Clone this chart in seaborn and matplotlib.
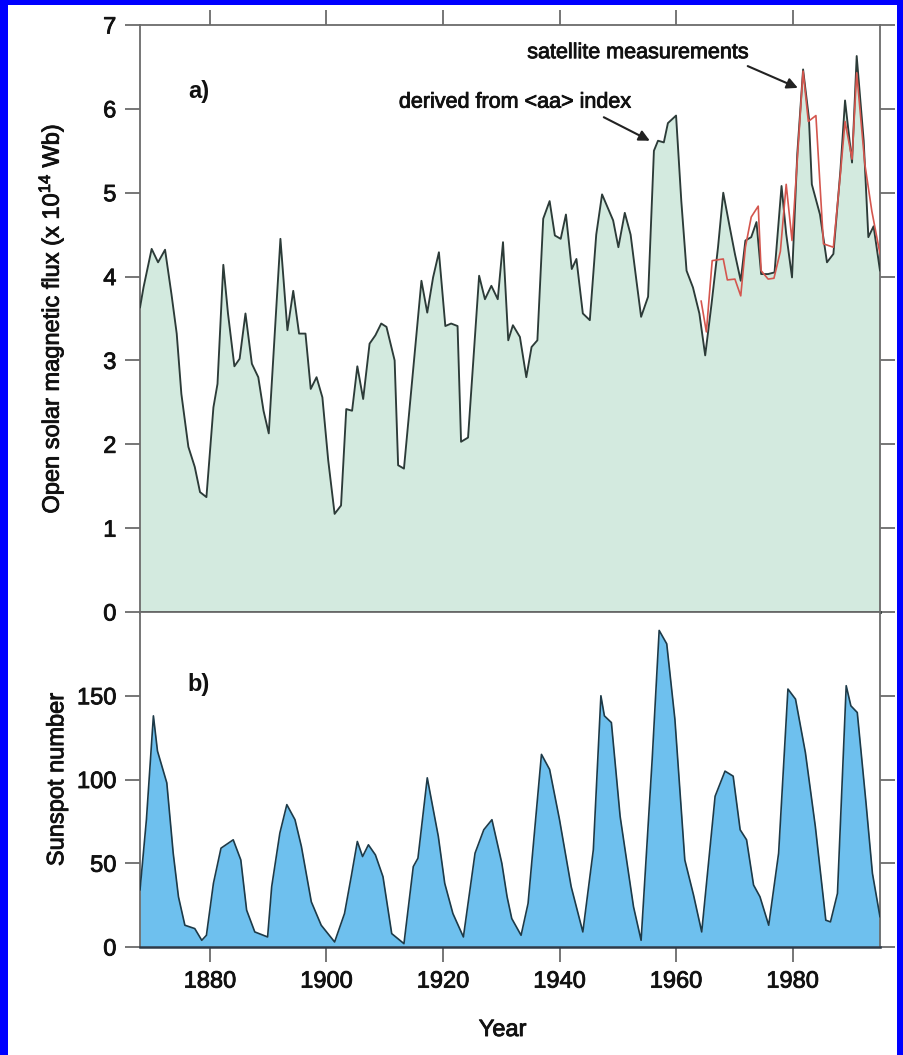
import matplotlib
matplotlib.use("Agg")
import matplotlib.pyplot as plt
import matplotlib.patheffects as pe
import pandas as pd
import seaborn as sns
from matplotlib.patches import Rectangle

# Open solar magnetic flux derived from the <aa> index (x 10^14 Wb)
flux_year = [1868.0, 1868.6, 1870.0, 1871.1, 1872.3, 1873.4, 1874.3, 1875.1, 1876.3, 1877.4,
             1878.3, 1879.4, 1880.6, 1881.3, 1882.3, 1883.1, 1884.2, 1885.1, 1886.1, 1887.2,
             1888.3, 1889.2, 1890.1, 1892.1, 1893.3, 1894.3, 1895.3, 1896.4, 1897.3, 1898.3,
             1899.3, 1900.3, 1901.4, 1902.5, 1903.4, 1904.4, 1905.3, 1906.3, 1907.4, 1908.4,
             1909.4, 1910.3, 1911.7, 1912.3, 1913.3, 1916.3, 1917.3, 1918.3, 1919.3, 1920.4,
             1921.4, 1922.5, 1923.1, 1924.3, 1926.2, 1927.2, 1928.3, 1929.4, 1930.3, 1931.2,
             1932.0, 1933.2, 1934.3, 1935.2, 1936.2, 1937.2, 1938.3, 1939.2, 1940.2, 1941.1,
             1942.1, 1942.9, 1944.0, 1945.2, 1946.3, 1947.3, 1949.2, 1950.1, 1951.2, 1952.2,
             1953.2, 1954.0, 1955.2, 1956.2, 1956.9, 1957.9, 1958.6, 1960.0, 1960.9, 1961.8,
             1962.9, 1964.0, 1965.0, 1966.1, 1967.2, 1968.1, 1969.1, 1970.1, 1971.1, 1971.9,
             1972.9, 1973.8, 1974.6, 1975.8, 1976.9, 1978.1, 1978.9, 1979.9, 1980.8, 1981.8,
             1982.8, 1983.3, 1984.7, 1985.9, 1987.0, 1988.2, 1989.0, 1990.2, 1991.0, 1992.2,
             1993.0, 1993.9, 1995.0]
flux_value = [3.63, 3.87, 4.33, 4.17, 4.32, 3.79, 3.32, 2.60, 1.97, 1.73,
              1.43, 1.37, 2.44, 2.72, 4.14, 3.56, 2.93, 3.02, 3.56, 2.96,
              2.80, 2.40, 2.13, 4.45, 3.36, 3.83, 3.32, 3.32, 2.66, 2.80,
              2.56, 1.81, 1.17, 1.27, 2.42, 2.40, 2.93, 2.54, 3.20, 3.30,
              3.44, 3.40, 3.00, 1.75, 1.71, 3.95, 3.57, 3.99, 4.29, 3.41,
              3.44, 3.41, 2.03, 2.08, 4.01, 3.73, 3.89, 3.73, 4.41, 3.24,
              3.42, 3.28, 2.80, 3.16, 3.24, 4.69, 4.90, 4.49, 4.45, 4.74,
              4.09, 4.21, 3.56, 3.48, 4.50, 4.98, 4.67, 4.35, 4.76, 4.50,
              3.95, 3.52, 3.76, 5.50, 5.62, 5.60, 5.83, 5.92, 4.90, 4.07,
              3.87, 3.56, 3.06, 3.68, 4.35, 5.00, 4.63, 4.27, 3.95, 4.43,
              4.47, 4.65, 4.03, 4.03, 4.05, 5.08, 4.51, 3.99, 5.46, 6.47,
              5.89, 5.10, 4.74, 4.17, 4.27, 5.26, 6.10, 5.36, 6.63, 5.62,
              4.47, 4.60, 4.07]

# Open flux from satellite measurements
sat_year = [1964.3, 1965.2, 1966.2, 1968.1, 1968.8, 1970.1, 1971.1, 1971.9, 1972.9, 1974.1,
            1974.6, 1975.8, 1976.8, 1977.9, 1978.9, 1979.9, 1981.8, 1982.7, 1984.0, 1985.3,
            1987.0, 1988.2, 1989.0, 1990.2, 1991.0, 1992.4, 1993.6, 1995.0]
sat_value = [3.71, 3.34, 4.19, 4.21, 3.96, 3.97, 3.77, 4.35, 4.71, 4.84,
             4.07, 3.97, 3.98, 4.30, 5.10, 4.43, 6.45, 5.85, 5.92, 4.39,
             4.35, 5.22, 5.85, 5.40, 6.43, 5.34, 4.78, 4.27]

# Sunspot number
ssn_year = [1868.0, 1869.1, 1870.3, 1871.0, 1872.6, 1873.7, 1874.6, 1875.7, 1877.4, 1878.6,
            1879.4, 1880.6, 1881.9, 1884.0, 1885.3, 1886.3, 1887.7, 1889.9, 1890.6, 1892.0,
            1893.2, 1894.6, 1895.7, 1897.4, 1899.1, 1901.4, 1903.1, 1904.3, 1905.3, 1906.2,
            1907.2, 1908.4, 1909.7, 1911.2, 1913.3, 1914.9, 1915.7, 1917.3, 1919.2, 1920.3,
            1921.7, 1923.5, 1925.5, 1927.0, 1928.4, 1930.1, 1931.0, 1931.8, 1933.4, 1934.6,
            1936.9, 1938.3, 1940.0, 1942.0, 1944.0, 1945.8, 1947.1, 1947.7, 1948.9, 1950.4,
            1952.7, 1954.0, 1955.9, 1957.1, 1958.4, 1959.8, 1961.5, 1963.0, 1964.4, 1966.7,
            1968.4, 1969.8, 1971.0, 1972.1, 1973.3, 1974.4, 1975.9, 1977.6, 1979.2, 1980.5,
            1982.2, 1983.9, 1985.7, 1986.5, 1987.7, 1989.2, 1990.0, 1991.1, 1992.6, 1993.7,
            1995.0]
ssn_value = [34, 76, 138, 117, 98, 56, 30, 13, 11, 4,
             7, 38, 59, 64, 52, 22, 9, 6, 36, 68,
             85, 76, 60, 27, 13, 3, 20, 43, 63, 54,
             61, 55, 42, 8, 2, 48, 53, 101, 66, 38,
             20, 6, 56, 70, 76, 50, 30, 17, 7, 26,
             115, 106, 76, 36, 9, 58, 150, 138, 134, 78,
             24, 4, 112, 189, 181, 136, 52, 31, 9, 90,
             105, 102, 70, 64, 37, 30, 13, 56, 154, 148,
             116, 72, 16, 15, 32, 156, 144, 140, 86, 44,
             18]

year_ticks = [1880, 1900, 1920, 1940, 1960, 1980]
flux_ticks = [0, 1, 2, 3, 4, 5, 6, 7]
ssn_ticks = [0, 50, 100, 150]

flux_df = pd.DataFrame({"year": flux_year, "flux": flux_value})
sat_df = pd.DataFrame({"year": sat_year, "flux": sat_value})
ssn_df = pd.DataFrame({"year": ssn_year, "ssn": ssn_value})

sns.set_theme(style="ticks")
plt.rcParams["font.family"] = ["Liberation Sans", "DejaVu Sans"]
plt.rcParams["mathtext.fontset"] = "custom"
plt.rcParams["mathtext.rm"] = "Liberation Sans"
plt.rcParams["mathtext.it"] = "Liberation Sans:italic"
plt.rcParams["mathtext.bf"] = "Liberation Sans:bold"

W, H = 904, 1055
fig = plt.figure(figsize=(W / 100, H / 100), dpi=100)
fig.patch.set_facecolor("#0000ff")
fig.add_artist(Rectangle((8 / W, 0), (W - 8 - 7) / W, 1 - 5 / H,
                         transform=fig.transFigure, facecolor="white",
                         edgecolor="none", zorder=-1))

left, width = 140 / W, 740 / W
ax1 = fig.add_axes([left, 1 - 612 / H, width, 587 / H])
ax2 = fig.add_axes([left, 1 - 947 / H, width, 335 / H])

spine_col = "#6b6b6b"
text_col = "#111111"
fs = 17
# slightly heavier glyphs
heavy = [pe.withStroke(linewidth=0.6, foreground=text_col)]

# (a) open flux
ax1.fill_between(flux_df["year"], flux_df["flux"], 0, color="#d3eadf", lw=0, zorder=1)
sns.lineplot(data=flux_df, x="year", y="flux", ax=ax1, color="#2c3b38",
             lw=1.35, estimator=None, sort=False, zorder=3)
sns.lineplot(data=sat_df, x="year", y="flux", ax=ax1, color="#d4564e",
             lw=1.2, estimator=None, sort=False, zorder=4)
ax1.set_xlim(1868, 1995)
ax1.set_ylim(0, 7)

# (b) sunspot number
ax2.fill_between(ssn_df["year"], ssn_df["ssn"], 0, color="#6ec0ee", lw=0, zorder=1)
sns.lineplot(data=ssn_df, x="year", y="ssn", ax=ax2, color="#1d3a48",
             lw=1.2, estimator=None, sort=False, zorder=3)
ax2.set_xlim(1868, 1995)
ax2.set_ylim(0, 200)

for ax in (ax1, ax2):
    ax.set_facecolor("white")
    for s in ax.spines.values():
        s.set_visible(True)
        s.set_color(spine_col)
        s.set_linewidth(1.3)
    ax.tick_params(axis="both", direction="out", length=11, width=1.3,
                   color=spine_col, labelsize=fs, labelcolor=text_col, pad=6)
    ax.set_xticks(year_ticks)
    ax.yaxis.set_ticks_position("both")
    ax.tick_params(axis="y", labelright=False)

ax1.spines["bottom"].set_color("#2e3a38")
ax1.spines["bottom"].set_linewidth(2.0)
ax2.spines["bottom"].set_color("#2e3a48")
ax2.spines["bottom"].set_linewidth(1.8)

ax1.set_yticks(flux_ticks)
ax1.xaxis.set_ticks_position("both")
ax1.tick_params(axis="x", labelbottom=False, labeltop=False)
ax2.set_yticks(ssn_ticks)
ax2.xaxis.set_ticks_position("bottom")

ax1.set_xlabel("")
ax1.set_ylabel("Open solar magnetic flux (x 10$^{14}$ Wb)", fontsize=fs, color=text_col)
ax1.yaxis.set_label_coords(-0.100, 0.5)
ax2.set_ylabel("Sunspot number", fontsize=fs, color=text_col)
ax2.yaxis.set_label_coords(-0.097, 0.5)
ax2.set_xlabel("Year", fontsize=fs, color=text_col)
ax2.xaxis.set_label_coords(0.49, -0.215)

ax1.text(1878.1, 6.21, "a)", fontsize=fs, fontweight="bold", color=text_col,
         ha="center", va="center")
ax2.text(1878.1, 157, "b)", fontsize=fs, fontweight="bold", color=text_col,
         ha="center", va="center")

ax1.text(1932.3, 6.08, "derived from <aa> index", fontsize=15.5, color=text_col,
         ha="center", va="center", path_effects=heavy)
ax1.annotate("", xy=(1955.5, 5.62), xytext=(1947.6, 5.9),
             arrowprops=dict(arrowstyle="-|>", color="#222222", lw=1.5,
                             mutation_scale=16, shrinkA=0, shrinkB=0))
ax1.text(1953.4, 6.67, "satellite measurements", fontsize=15.5, color=text_col,
         ha="center", va="center", path_effects=heavy)
ax1.annotate("", xy=(1980.9, 6.25), xytext=(1972.3, 6.51),
             arrowprops=dict(arrowstyle="-|>", color="#222222", lw=1.5,
                             mutation_scale=16, shrinkA=0, shrinkB=0))

for ax in (ax1, ax2):
    for lab in ax.get_xticklabels() + ax.get_yticklabels():
        lab.set_path_effects(heavy)
    ax.yaxis.label.set_path_effects(heavy)
    ax.xaxis.label.set_path_effects(heavy)

fig.savefig("out.png", dpi=100, facecolor=fig.get_facecolor())
